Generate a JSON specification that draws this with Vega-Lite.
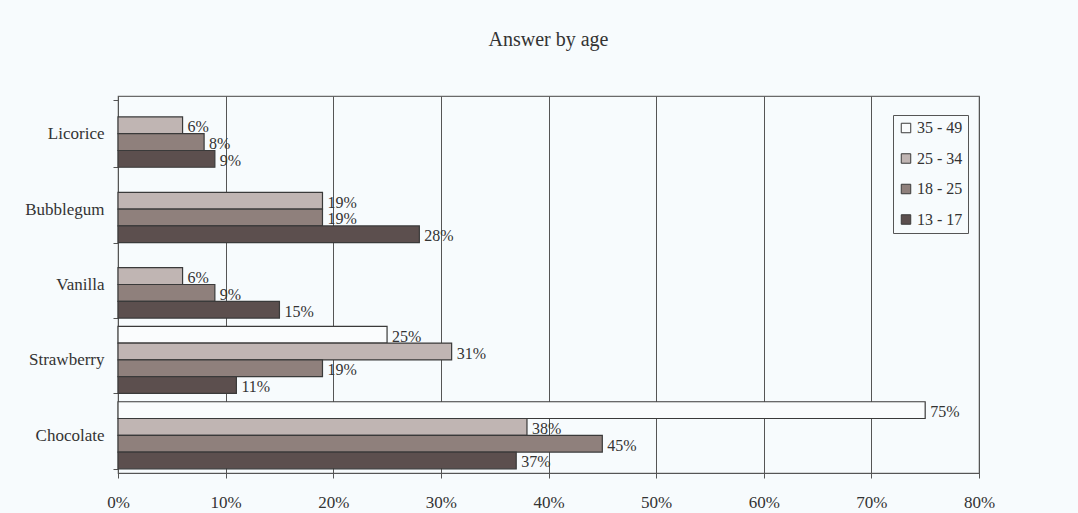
{
  "$schema": "https://vega.github.io/schema/vega-lite/v6.json",
  "width": 861,
  "height": 377,
  "autosize": {"type": "none"},
  "padding": {"left": 118, "top": 96, "right": 99, "bottom": 40},
  "background": "#f7fbfd",
  "title": {
    "text": "Answer by age",
    "anchor": "middle",
    "offset": 21,
    "baseline": "alphabetic",
    "font": "Liberation Serif",
    "fontSize": 20,
    "fontWeight": "normal",
    "color": "#333333"
  },
  "config": {
    "view": {"stroke": "#6a6a6a", "strokeWidth": 1.2},
    "font": "Liberation Serif",
    "axis": {
      "labelFont": "Liberation Serif",
      "labelFontSize": 17,
      "labelColor": "#333333",
      "domainColor": "#555555",
      "tickColor": "#555555",
      "title": null
    },
    "legend": {
      "labelFont": "Liberation Serif",
      "labelFontSize": 16,
      "labelColor": "#333333"
    }
  },
  "data": {
    "values": [
      {"flavor": "Licorice", "age": "25 - 34", "value": 0.06},
      {"flavor": "Licorice", "age": "18 - 25", "value": 0.08},
      {"flavor": "Licorice", "age": "13 - 17", "value": 0.09},
      {"flavor": "Bubblegum", "age": "25 - 34", "value": 0.19},
      {"flavor": "Bubblegum", "age": "18 - 25", "value": 0.19},
      {"flavor": "Bubblegum", "age": "13 - 17", "value": 0.28},
      {"flavor": "Vanilla", "age": "25 - 34", "value": 0.06},
      {"flavor": "Vanilla", "age": "18 - 25", "value": 0.09},
      {"flavor": "Vanilla", "age": "13 - 17", "value": 0.15},
      {"flavor": "Strawberry", "age": "35 - 49", "value": 0.25},
      {"flavor": "Strawberry", "age": "25 - 34", "value": 0.31},
      {"flavor": "Strawberry", "age": "18 - 25", "value": 0.19},
      {"flavor": "Strawberry", "age": "13 - 17", "value": 0.11},
      {"flavor": "Chocolate", "age": "35 - 49", "value": 0.75},
      {"flavor": "Chocolate", "age": "25 - 34", "value": 0.38},
      {"flavor": "Chocolate", "age": "18 - 25", "value": 0.45},
      {"flavor": "Chocolate", "age": "13 - 17", "value": 0.37}
    ]
  },
  "encoding": {
    "y": {
      "field": "flavor",
      "type": "nominal",
      "sort": ["Licorice", "Bubblegum", "Vanilla", "Strawberry", "Chocolate"],
      "scale": {"paddingInner": 0.11, "paddingOuter": 0.055},
      "axis": {
        "domain": true,
        "ticks": true,
        "tickBand": "extent",
        "tickSize": 5,
        "labelPadding": 9,
        "grid": false
      }
    },
    "yOffset": {
      "field": "age",
      "type": "nominal",
      "scale": {"domain": ["35 - 49", "25 - 34", "18 - 25", "13 - 17"]}
    },
    "x": {
      "field": "value",
      "type": "quantitative",
      "scale": {"domain": [0, 0.8], "nice": false},
      "axis": {
        "format": ".0%",
        "values": [0, 0.1, 0.2, 0.3, 0.4, 0.5, 0.6, 0.7, 0.8],
        "grid": true,
        "gridColor": "#555555",
        "gridWidth": 1,
        "tickSize": 5,
        "labelFlush": false,
        "labelPadding": 16
      }
    }
  },
  "layer": [
    {
      "mark": {"type": "bar", "stroke": "#3a3a3a", "strokeWidth": 1.2},
      "encoding": {
        "color": {
          "field": "age",
          "type": "nominal",
          "scale": {
            "domain": ["35 - 49", "25 - 34", "18 - 25", "13 - 17"],
            "range": ["#fafcfd", "#c0b5b3", "#8f807c", "#5c4f4e"]
          },
          "legend": {
            "title": null,
            "orient": "none",
            "legendX": 775,
            "legendY": 19,
            "symbolType": "square",
            "symbolSize": 90,
            "symbolStrokeColor": "#3a3a3a",
            "symbolStrokeWidth": 1,
            "labelOffset": 3,
            "rowPadding": 14.5,
            "padding": 5,
            "strokeColor": "#555555",
            "fillColor": "#f7fbfd"
          }
        }
      }
    },
    {
      "mark": {
        "type": "text",
        "align": "left",
        "baseline": "middle",
        "dx": 5,
        "dy": 2,
        "font": "Liberation Serif",
        "fontSize": 16,
        "color": "#333333"
      },
      "encoding": {
        "text": {"field": "value", "type": "quantitative", "format": ".0%"}
      }
    }
  ]
}
